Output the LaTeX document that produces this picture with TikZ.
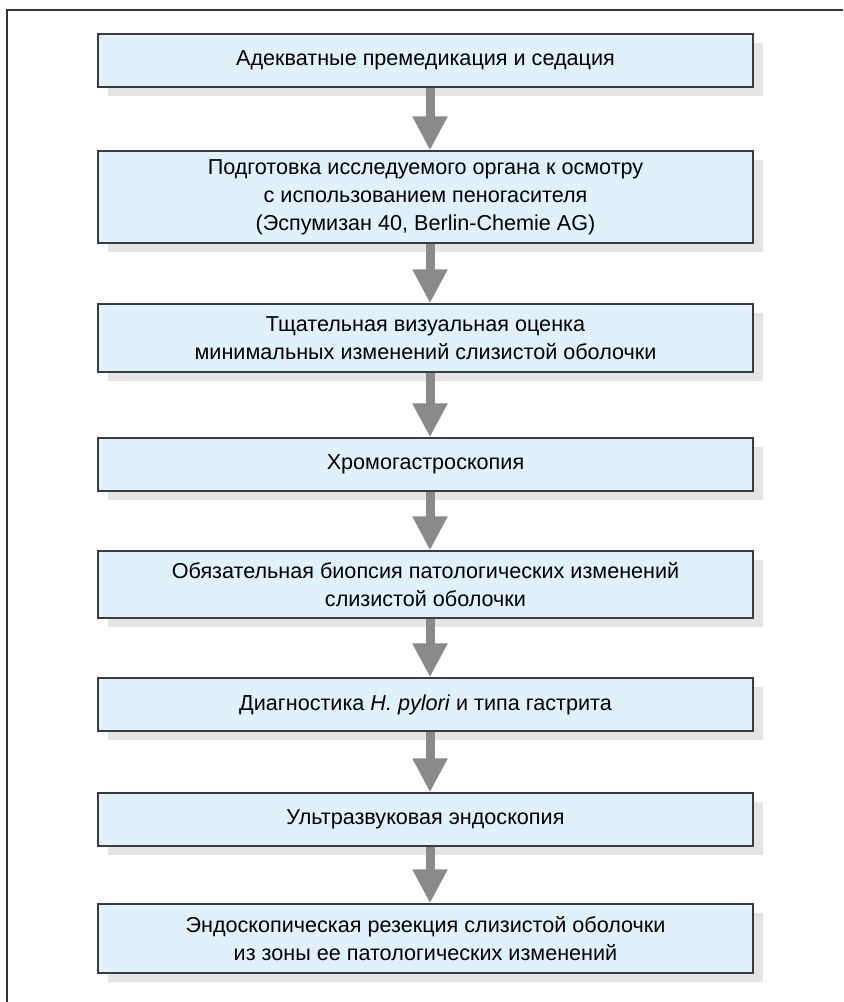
\documentclass[tikz,border=0pt]{standalone}
\usepackage{fontspec}
\setmainfont{Liberation Sans}
\usepackage{xcolor}
\usetikzlibrary{arrows.meta}
\usetikzlibrary{shadows}

\definecolor{boxfill}{HTML}{E0F1FB}
\definecolor{boxline}{HTML}{3C3C3C}
\definecolor{boxshadow}{HTML}{E4E4E6}
\definecolor{arrowgray}{HTML}{8A8A8C}
\definecolor{frameline}{HTML}{333333}

\begin{document}
\begin{tikzpicture}[x=0.5pt,y=0.5pt,yscale=-1,xscale=1,
  stepbox/.style={draw=boxline, line width=0.7pt, fill=boxfill, inner sep=0pt,
    minimum width=327.5pt, align=center, font=\fontsize{10.8}{14}\selectfont,
    drop shadow={shadow xshift=5pt, shadow yshift=-4.5pt, fill=boxshadow, opacity=1}},
  flowarrow/.style={draw=arrowgray, line width=4.5pt, -{Triangle[length=17pt,width=16.5pt]}}]
\useasboundingbox (0,0) rectangle (843,1002);

%Frame
\draw [frameline, line width=0.75pt] (7,1002) -- (7,10) -- (843,10) ;

% Text Node
\node [stepbox, minimum height=26.5pt] (prem) at (425.5,60.5) {Адекватные премедикация и седация};
% Text Node
\node [stepbox, minimum height=46pt] (prep) at (425.5,197) {Подготовка исследуемого органа к осмотру\\ с использованием пеногасителя\\ (Эспумизан 40, Berlin-Chemie AG)};
% Text Node
\node [stepbox, minimum height=34pt] (visual) at (425.5,338) {Тщательная визуальная оценка\\ минимальных изменений слизистой оболочки};
% Text Node
\node [stepbox, minimum height=26.5pt] (chromo) at (425.5,464.5) {Хромогастроскопия};
% Text Node
\node [stepbox, minimum height=33.5pt] (biopsy) at (425.5,584.5) {Обязательная биопсия патологических изменений\\ слизистой оболочки};
% Text Node
\node [stepbox, minimum height=26.5pt] (diag) at (425.5,704.5) {Диагностика \textit{H. pylori} и типа гастрита};
% Text Node
\node [stepbox, minimum height=26.5pt] (ultra) at (425.5,819.5) {Ультразвуковая эндоскопия};
% Text Node
\node [stepbox, minimum height=34.5pt] (resect) at (425.5,938.5) {Эндоскопическая резекция слизистой оболочки\\ из зоны ее патологических изменений};

%Arrows
\draw [flowarrow] ([xshift=2.25pt]prem.south) -- ([xshift=2.25pt]prep.north) ;
\draw [flowarrow] ([xshift=2.25pt]prep.south) -- ([xshift=2.25pt]visual.north) ;
\draw [flowarrow] ([xshift=2.25pt]visual.south) -- ([xshift=2.25pt]chromo.north) ;
\draw [flowarrow] ([xshift=2.25pt]chromo.south) -- ([xshift=2.25pt]biopsy.north) ;
\draw [flowarrow] ([xshift=2.25pt]biopsy.south) -- ([xshift=2.25pt]diag.north) ;
\draw [flowarrow] ([xshift=2.25pt]diag.south) -- ([xshift=2.25pt]ultra.north) ;
\draw [flowarrow] ([xshift=2.25pt]ultra.south) -- ([xshift=2.25pt]resect.north) ;

\end{tikzpicture}
\end{document}
